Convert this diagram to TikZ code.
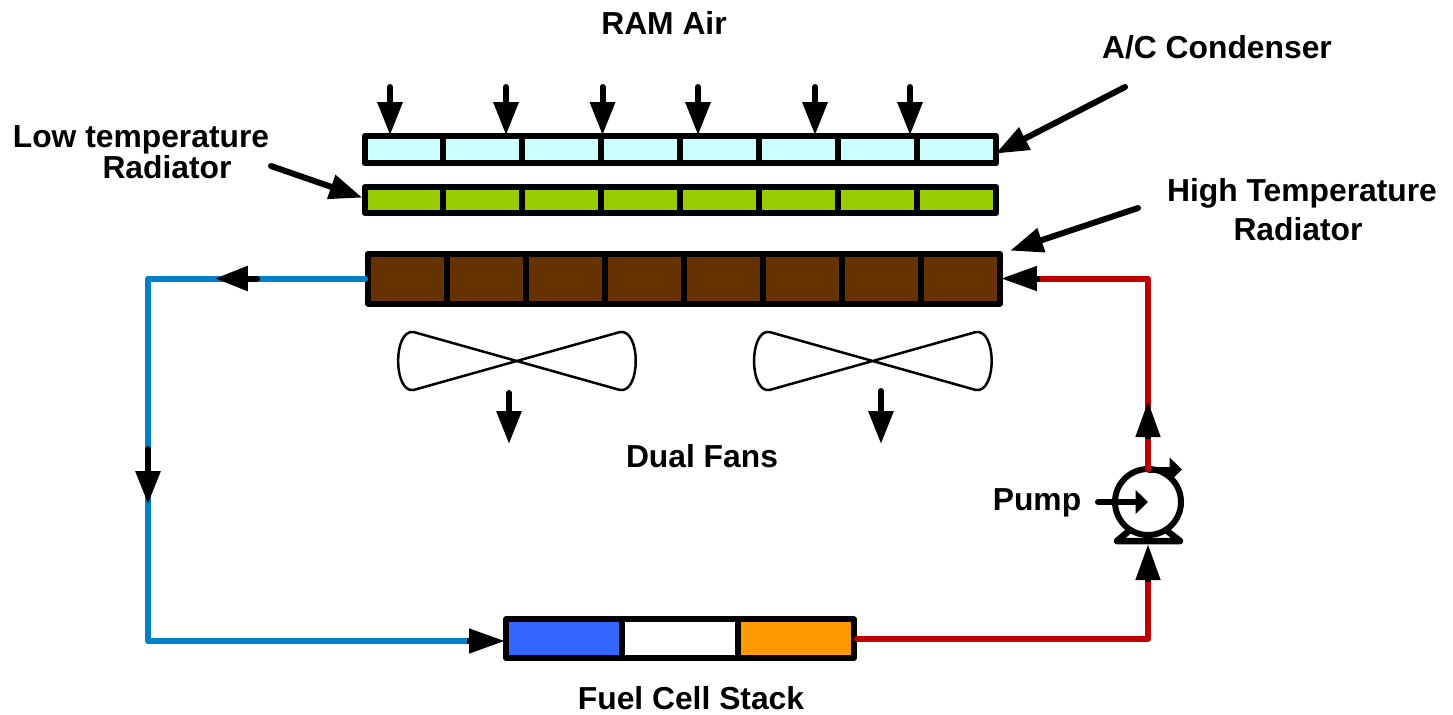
\documentclass[tikz,border=0pt]{standalone}
\usepackage{fontspec}
\setmainfont{Liberation Sans}
\usetikzlibrary{arrows.meta, calc}
\definecolor{coolblue}{HTML}{0080C8}
\definecolor{hotred}{HTML}{C00000}
\definecolor{condfill}{HTML}{CCFFFF}
\definecolor{lowfill}{HTML}{99CC00}
\definecolor{highfill}{HTML}{663300}
\definecolor{stackblue}{HTML}{3366FF}
\definecolor{stackorange}{HTML}{FF9900}
\tikzstyle{cell} = [rectangle, minimum width=1.58cm, inner sep=0pt, draw=black, line width=0.12cm, line join=round]
\tikzstyle{condcell} = [cell, minimum height=0.54cm, fill=condfill]
\tikzstyle{lowcell} = [cell, minimum height=0.53cm, fill=lowfill]
\tikzstyle{highcell} = [cell, minimum height=1cm, fill=highfill]
\tikzstyle{stackcell} = [cell, minimum width=2.32cm, minimum height=0.77cm]
\tikzstyle{lbl} = [font=\fontsize{18.1}{22}\selectfont\bfseries, inner sep=0pt]
\tikzstyle{arrow} = [line width=0.12cm, line cap=round, shorten >=-0.04cm, -{Triangle[length=0.66cm,width=0.48cm]}]
\tikzstyle{flowhead} = [line width=0.12cm, shorten >=-0.04cm, -{Triangle[length=0.72cm,width=0.47cm]}]
\tikzstyle{smallarrow} = [line width=0.12cm, line cap=round, -{Triangle[length=0.25cm,width=0.47cm]}]
\tikzstyle{coldpipe} = [line width=0.12cm, color=coolblue, line cap=round, line join=round]
\tikzstyle{hotpipe} = [line width=0.12cm, color=hotred, line cap=round, line join=round]
\tikzstyle{fan} = [line width=0.05cm, line join=round]
\begin{document}
\begin{tikzpicture}[x=0.02cm, y=-0.02cm, node distance=1.58cm]
	\useasboundingbox (0,0) rectangle (1453,714);
	% A/C condenser
	\node(cond1)[condcell] at (404,149.7) {};
	\node(cond2)[condcell, right of=cond1] {};
	\node(cond3)[condcell, right of=cond2] {};
	\node(cond4)[condcell, right of=cond3] {};
	\node(cond5)[condcell, right of=cond4] {};
	\node(cond6)[condcell, right of=cond5] {};
	\node(cond7)[condcell, right of=cond6] {};
	\node(cond8)[condcell, right of=cond7] {};
	% Low temperature radiator
	\node(low1)[lowcell] at (404,200) {};
	\node(low2)[lowcell, right of=low1] {};
	\node(low3)[lowcell, right of=low2] {};
	\node(low4)[lowcell, right of=low3] {};
	\node(low5)[lowcell, right of=low4] {};
	\node(low6)[lowcell, right of=low5] {};
	\node(low7)[lowcell, right of=low6] {};
	\node(low8)[lowcell, right of=low7] {};
	% High temperature radiator
	\node(high1)[highcell] at (407.5,278.5) {};
	\node(high2)[highcell, right of=high1] {};
	\node(high3)[highcell, right of=high2] {};
	\node(high4)[highcell, right of=high3] {};
	\node(high5)[highcell, right of=high4] {};
	\node(high6)[highcell, right of=high5] {};
	\node(high7)[highcell, right of=high6] {};
	\node(high8)[highcell, right of=high7] {};
	% Stack
	\node(stack1)[stackcell, fill=stackblue] at (564,638.7) {};
	\node(stack2)[stackcell, fill=white, right of=stack1, node distance=2.32cm] {};
	\node(stack3)[stackcell, fill=stackorange, right of=stack2, node distance=2.32cm] {};
	% Pump
	\node(pump)[circle, draw=black, line width=0.12cm, minimum size=1.32cm, inner sep=0pt] at (1148,502) {};
	\draw [line width=0.13cm, line cap=round, line join=round] (1130,530) -- (1117,541) -- (1180,541) -- (1166,530);
	% Labels
	\node(ram)[lbl] at (664,23) {RAM Air};
	\node(condlabel)[lbl] at (1217,47) {A/C Condenser};
	\node(lowlabel)[lbl] at (141,140) {Low temperature};
	\node(lowlabelb)[lbl] at (167,167) {Radiator};
	\node(highlabel)[lbl] at (1302,193) {High Temperature};
	\node(highlabelb)[lbl] at (1298,229) {Radiator};
	\node(fanlabel)[lbl] at (702,456) {Dual Fans};
	\node(pumplabel)[lbl] at (1037,503) {Pump};
	\node(stacklabel)[lbl] at (691,698) {Fuel Cell Stack};
	% Fans
	\draw [fan] (413.5,332) -- (620,390) .. controls (641,393) and (641,329) .. (620,332) -- (413.5,390) .. controls (393,393) and (393,329) .. (413.5,332);
	\draw [fan, xshift=7.12cm] (413.5,332) -- (620,390) .. controls (641,393) and (641,329) .. (620,332) -- (413.5,390) .. controls (393,393) and (393,329) .. (413.5,332);
	% Pipes
	\coordinate(coldcorner) at (148,278.5);
	\coordinate(coldbottom) at (148,641);
	\coordinate(hottop) at (1148,278.5);
	\coordinate(flowe) at (467,641);
	\coordinate(flowf) at (1148,582);
	\coordinate(flowh) at (1148,439);
	\coordinate(flowj) at (1040,278.5);
	\coordinate(pumptop) at (1148,469.5);
	\draw [coldpipe] (high1.west) -- (coldcorner) -- (coldbottom) -- (flowe);
	\draw [hotpipe] (stack3.east) -| (flowf);
	% Flow arrows
	\coordinate(flowa) at (257,278.5);
	\coordinate(flowb) at (217,278.5);
	\coordinate(flowc) at (148,449);
	\coordinate(flowd) at (148,502);
	\coordinate(flowg) at (1148,546);
	\coordinate(flowi) at (1148,403);
	\draw [arrow] (flowa) -- (flowb);
	\draw [arrow] (flowc) -- (flowd);
	\draw [flowhead] (flowe) -- (flowe -| stack1.west);
	\draw [flowhead] (flowf) -- (flowg);
	% Pump marks
	\coordinate(pumpin) at (1098,502);
	\coordinate(pumpout) at (1182,469.5);
	\draw [smallarrow] (pumpin) -- (pump.center);
	\draw [smallarrow, line cap=butt] (pumptop) -- (pumpout);
	\draw [hotpipe] (pumptop) -- (hottop) -- (flowj);
	\draw [flowhead] (flowh) -- (flowi);
	\draw [flowhead] (flowj) -- (high8.east);
	% Air arrows
	\coordinate(aira) at (390,87);
	\coordinate(airb) at (506,87);
	\coordinate(airc) at (602.5,87);
	\coordinate(aird) at (698,87);
	\coordinate(aire) at (815,87);
	\coordinate(airf) at (910,87);
	\draw [arrow] (aira) -- (aira |- cond1.north);
	\draw [arrow] (airb) -- (airb |- cond1.north);
	\draw [arrow] (airc) -- (airc |- cond1.north);
	\draw [arrow] (aird) -- (aird |- cond1.north);
	\draw [arrow] (aire) -- (aire |- cond1.north);
	\draw [arrow] (airf) -- (airf |- cond1.north);
	\coordinate(fana) at (509,393);
	\coordinate(fanb) at (509,442);
	\coordinate(fanc) at (881,391);
	\coordinate(fand) at (881,442);
	\draw [arrow] (fana) -- (fanb);
	\draw [arrow] (fanc) -- (fand);
	% Callouts
	\coordinate(condcall) at (1125,87);
	\coordinate(lowcall) at (271,166);
	\coordinate(highcall) at (1138,208);
	\coordinate(hightip) at (1012,250);
	\draw [arrow] (condcall) -- ($(cond8.east)+(-2,3)$);
	\draw [arrow] (lowcall) -- ($(low1.west)+(-1,-3)$);
	\draw [arrow] (highcall) -- (hightip);
\end{tikzpicture}
\end{document}
